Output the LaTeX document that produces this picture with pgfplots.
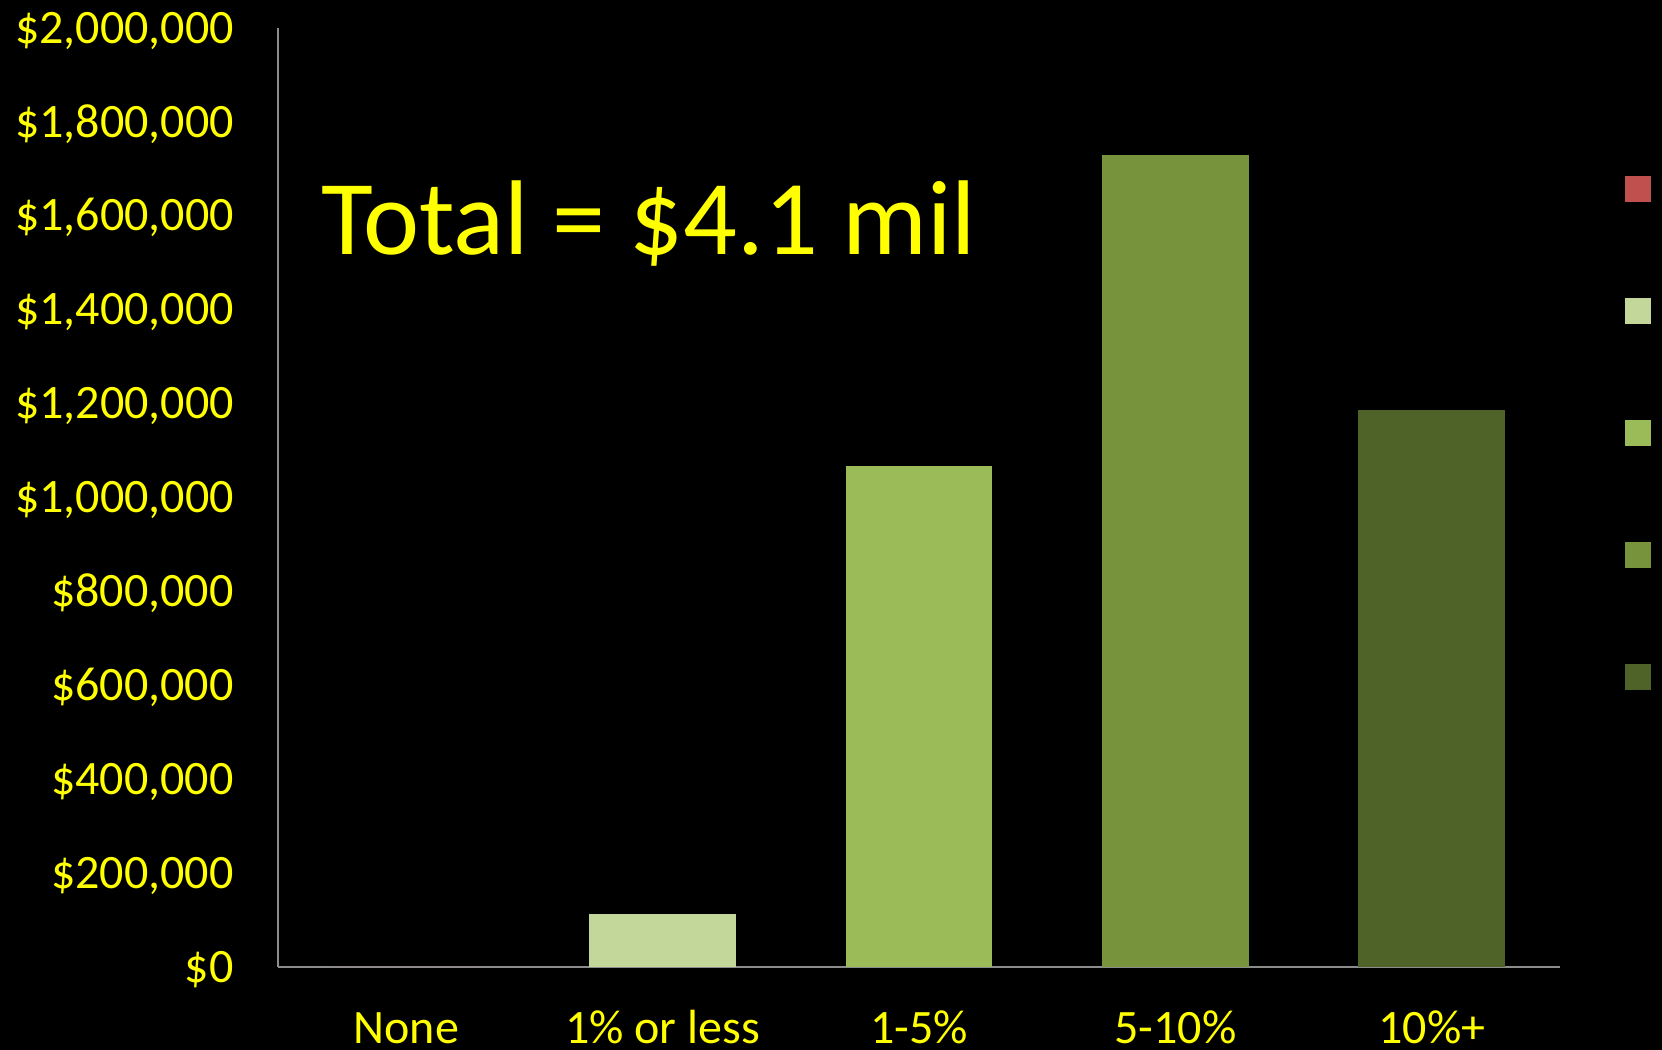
\documentclass[border=0pt]{standalone}
\usepackage{pgfplots}
\pgfplotsset{compat=1.18}
\usepackage{fontspec}
\setmainfont{Carlito}
\definecolor{cNone}{HTML}{C0504D}
\definecolor{cOne}{HTML}{C4D79B}
\definecolor{cFive}{HTML}{9BBB59}
\definecolor{cTen}{HTML}{77933C}
\definecolor{cPlus}{HTML}{4F6228}
\definecolor{axgray}{HTML}{8C8C8C}
\definecolor{yel}{HTML}{FFFF00}
\begin{document}
\begin{tikzpicture}
\path[use as bounding box, fill=black] (-139pt,-41.5pt) rectangle (692pt,483.5pt);
\begin{axis}[
  at={(0,0)}, anchor=south west,
  scale only axis, width=641pt, height=469.5pt,
  ybar, bar shift=0pt, bar width=0.573,
  xmin=-0.5, xmax=4.5, ymin=0, ymax=2000000,
  axis x line=bottom, axis y line=left,
  axis line style={-, draw=axgray, line width=1.3pt},
  major tick length=0pt,
  xtick={0,1,2,3,4},
  xticklabels={None,1\% or less,1-5\%,5-10\%,10\%+},
  ytick={0,200000,400000,600000,800000,1000000,1200000,1400000,1600000,1800000,2000000},
  yticklabels={\$0,\$200{,}000,\$400{,}000,\$600{,}000,\$800{,}000,\$1{,}000{,}000,\$1{,}200{,}000,\$1{,}400{,}000,\$1{,}600{,}000,\$1{,}800{,}000,\$2{,}000{,}000},
  scaled y ticks=false,
  /pgf/number format/assume math mode=true,
  tick label style={font=\fontsize{24}{24}\selectfont, text=yel, inner sep=0pt},
  xticklabel style={anchor=base, yshift=-38.5pt},
  yticklabel style={anchor=base east, xshift=-22pt, yshift=-7.6pt},
  legend image code/.code={\fill[#1] (0pt,-6.5pt) rectangle (13pt,6.5pt);},
  legend style={draw=none, fill=none, inner sep=0pt, at={(axis description cs:1.0507,0.8424)}, anchor=north west,
    row sep=48pt, nodes={inner sep=0pt}},
  clip=false,
]
\addplot[fill=cNone, draw=none] coordinates {(0,0)};
\addlegendentry{\mbox{}}
\addplot[fill=cOne, draw=none] coordinates {(1,112900)};
\addlegendentry{\mbox{}}
\addplot[fill=cFive, draw=none] coordinates {(2,1067000)};
\addlegendentry{\mbox{}}
\addplot[fill=cTen, draw=none] coordinates {(3,1729500)};
\addlegendentry{\mbox{}}
\addplot[fill=cPlus, draw=none] coordinates {(4,1186400)};
\addlegendentry{\mbox{}}
\node[anchor=base west, inner sep=0pt, text=yel, font=\fontsize{53.1}{53.1}\selectfont] at (axis description cs:0.0335,0.7583) {Total = \$4.1 mil};
\end{axis}
\end{tikzpicture}
\end{document}
